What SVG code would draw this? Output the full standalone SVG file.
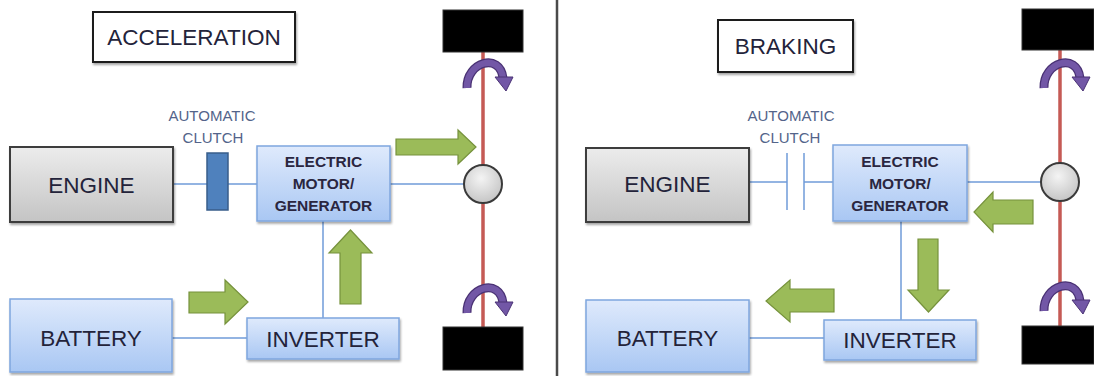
<svg xmlns="http://www.w3.org/2000/svg" width="1094" height="376" viewBox="0 0 1094 376">
<defs>
<linearGradient id="gGray" x1="0" y1="0" x2="0" y2="1"><stop offset="0" stop-color="#ececec"/><stop offset="1" stop-color="#c4c4c4"/></linearGradient>
<linearGradient id="gBlue" x1="0" y1="0" x2="0" y2="1"><stop offset="0" stop-color="#dfeafc"/><stop offset="1" stop-color="#a9c7f3"/></linearGradient>
<radialGradient id="gBall" cx="0.45" cy="0.35" r="0.7"><stop offset="0" stop-color="#f4f4f4"/><stop offset="1" stop-color="#c2c2c2"/></radialGradient>
<filter id="sh" x="-10%" y="-10%" width="125%" height="130%"><feDropShadow dx="1" dy="2" stdDeviation="1.2" flood-color="#000" flood-opacity="0.35"/></filter>
<g id="purp"><path d="M467,88 C466,62 500,52 503,78" fill="none" stroke="#4a3274" stroke-width="9" stroke-linecap="butt"/><path d="M467,88 C466,62 500,52 503,78" fill="none" stroke="#7257a6" stroke-width="6.5"/><polygon points="495,77 513,77 506,91" fill="#7257a6" stroke="#4a3274" stroke-width="1"/></g>
</defs>
<style>
.big{font-family:"Liberation Sans",Arial,sans-serif;font-size:22.5px;fill:#23233a;text-anchor:middle}
.mid{font-family:"Liberation Sans",Arial,sans-serif;font-size:15.5px;font-weight:bold;fill:#2a2640;text-anchor:middle}
.sm{font-family:"Liberation Sans",Arial,sans-serif;font-size:15px;fill:#53648a;text-anchor:middle}
.gray{fill:url(#gGray);stroke:#3c3c3c;stroke-width:2;filter:url(#sh)}
.blue{fill:url(#gBlue);stroke:#7fa6de;stroke-width:1.5;filter:url(#sh)}
.title{fill:#fff;stroke:#1a1a1a;stroke-width:2;filter:url(#sh)}
.wheel{fill:#000;stroke:#333;stroke-width:1}
.axle{stroke:#c55a55;stroke-width:3.5;fill:none}
.ball{fill:url(#gBall);stroke:#3a3a3a;stroke-width:2}
.link{stroke:#6f9bd8;stroke-width:1.5;fill:none}
.green{fill:#9bbb59;stroke:#76923c;stroke-width:1.2}
.clutch{fill:#4f81bd;stroke:#385d8a;stroke-width:1.5}
</style>
<rect width="1094" height="376" fill="#fff"/>
<line x1="557" y1="0" x2="557" y2="376" stroke="#4a4a4a" stroke-width="2.5"/>

<g id="connectors">
<line class="link" x1="173" y1="184" x2="207" y2="184"/>
<line class="link" x1="228" y1="184" x2="257" y2="184"/>
<line class="link" x1="390" y1="184" x2="465" y2="184"/>
<line class="link" x1="323" y1="221" x2="323" y2="318"/>
<line class="link" x1="172" y1="338" x2="247" y2="338"/>
<line class="link" x1="749" y1="182" x2="787" y2="182"/>
<line class="link" x1="804" y1="182" x2="833" y2="182"/>
<line class="link" x1="967" y1="182" x2="1041" y2="182"/>
<line class="link" x1="901" y1="221" x2="901" y2="320"/>
<line class="link" x1="749" y1="338" x2="824" y2="338"/>
<line class="axle" x1="483" y1="52" x2="483" y2="327"/>
<line class="axle" x1="1060" y1="50" x2="1060" y2="326"/>
</g>

<g id="title-accel"><rect class="title" x="93" y="12" width="202" height="50"/><text class="big" x="194" y="45">ACCELERATION</text></g>
<g id="title-brake"><rect class="title" x="718" y="20" width="135" height="52"/><text class="big" x="785.5" y="54">BRAKING</text></g>

<g id="engine-a"><rect class="gray" x="10" y="147" width="163" height="75"/><text class="big" x="91.5" y="193">ENGINE</text></g>
<g id="clutch-a"><text class="sm" x="212" y="121">AUTOMATIC</text><text class="sm" x="213" y="143">CLUTCH</text><rect class="clutch" x="207" y="153" width="21" height="57"/></g>
<g id="motor-a"><rect class="blue" x="257" y="146" width="133" height="75"/><text class="mid" x="323.5" y="167">ELECTRIC</text><text class="mid" x="323.5" y="189">MOTOR/</text><text class="mid" x="323.5" y="211">GENERATOR</text></g>
<g id="battery-a"><rect class="blue" x="10" y="299" width="162" height="73"/><text class="big" x="91" y="346">BATTERY</text></g>
<g id="inverter-a"><rect class="blue" x="247" y="318" width="152" height="41"/><text class="big" x="323" y="347">INVERTER</text></g>
<g id="wheels-a"><rect class="wheel" x="443" y="10" width="80" height="42"/><rect class="wheel" x="443" y="327" width="80" height="43"/><circle class="ball" cx="483" cy="184" r="19"/><use href="#purp"/><use href="#purp" transform="translate(0,225)"/></g>

<g id="arrows-a">
<path class="green" d="M396,139 H458 V130 L476,147 L458,164 V155 H396 Z"/>
<path class="green" d="M340,304 V253 H329 L350.5,230 L372,253 H361 V304 Z"/>
<path class="green" d="M189,292 H225 V280 L248,302 L225,324 V313 H189 Z"/>
</g>

<g id="engine-b"><rect class="gray" x="586" y="148" width="163" height="74"/><text class="big" x="667.5" y="192">ENGINE</text></g>
<g id="clutch-b"><text class="sm" x="791" y="121">AUTOMATIC</text><text class="sm" x="790" y="143">CLUTCH</text><line class="link" x1="787" y1="153" x2="787" y2="210"/><line class="link" x1="804" y1="153" x2="804" y2="210"/></g>
<g id="motor-b"><rect class="blue" x="833" y="145" width="134" height="76"/><text class="mid" x="900" y="167">ELECTRIC</text><text class="mid" x="900" y="189">MOTOR/</text><text class="mid" x="900" y="211">GENERATOR</text></g>
<g id="battery-b"><rect class="blue" x="586" y="300" width="163" height="72"/><text class="big" x="667.5" y="346">BATTERY</text></g>
<g id="inverter-b"><rect class="blue" x="824" y="320" width="152" height="40"/><text class="big" x="900" y="348">INVERTER</text></g>
<g id="wheels-b"><rect class="wheel" x="1022" y="9" width="72" height="41"/><rect class="wheel" x="1022" y="326" width="72" height="38"/><circle class="ball" cx="1060" cy="182" r="19"/><use href="#purp" transform="translate(577,0)"/><use href="#purp" transform="translate(577,223)"/></g>

<g id="arrows-b">
<path class="green" d="M1033,200 H993 V192 L974,212 L993,232 V224 H1033 Z"/>
<path class="green" d="M918,239 V290 H908 L928.5,312 L949,290 H938 V239 Z"/>
<path class="green" d="M834,289 H790 V280 L766,301 L790,322 V312 H834 Z"/>
</g>
</svg>
